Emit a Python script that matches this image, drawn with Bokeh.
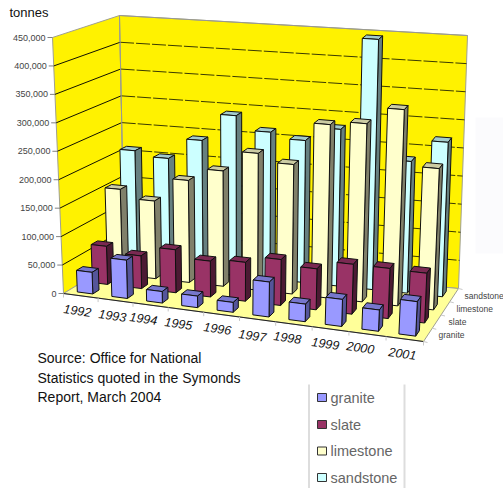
from bokeh.core.properties import value
from bokeh.embed import file_html
from bokeh.models import ColumnDataSource
from bokeh.plotting import figure
from bokeh.resources import INLINE

years = ["1992", "1993", "1994", "1995", "1996", "1997", "1998", "1999", "2000", "2001"]
rock_types = ["granite", "slate", "limestone", "sandstone"]
granite = [38000, 67000, 20000, 20000, 17000, 60000, 30000, 46000, 36000, 58000]
slate = [68000, 58000, 76000, 63000, 68000, 80000, 71000, 86000, 86000, 85000]
limestone = [155000, 140000, 183000, 206000, 243000, 229000, 305000, 312000, 342000, 245000]
sandstone = [211000, 202000, 240000, 290000, 265000, 255000, 280000, 445000, 233000, 272000]
series = [granite, slate, limestone, sandstone]
y_ticks = [0, 50000, 100000, 150000, 200000, 250000, 300000, 350000, 400000, 450000]
y_max = 450000

front_colors = ["#9999FF", "#993366", "#FFFFCC", "#CCFFFF"]
side_colors = ["#55559A", "#4C1A33", "#80806A", "#668080"]
top_colors = ["#7777CC", "#7A2952", "#CCCCA3", "#A3CCCC"]

# Corners of the 3-D plot box on the page: (depth, height) -> [left, right] as (x, y)
BOX = {
    (0, 0): [(63, 293), (423, 341)],
    (0, 1): [(52, 37), (437, 72)],
    (1, 0): [(124, 256), (458, 288)],
    (1, 1): [(119, 15), (467, 35)],
}
# The right of the box is nearer the viewer, so year spacing widens towards it
PERSPECTIVE = 1.045


def project(u, v, tonnes):
    """Map year position u, series position v and a tonnage to page pixels."""
    a, b, c = u / len(years), v / len(rock_types), tonnes / y_max
    a = a / (a + (1 - a) * PERSPECTIVE)
    out = []
    for k in (0, 1):
        near = [(1 - a) * BOX[(0, h)][0][k] + a * BOX[(0, h)][1][k] for h in (0, 1)]
        far = [(1 - a) * BOX[(1, h)][0][k] + a * BOX[(1, h)][1][k] for h in (0, 1)]
        low = (1 - b) * near[0] + b * far[0]
        high = (1 - b) * near[1] + b * far[1]
        out.append((1 - c) * low + c * high)
    return tuple(out)


def face(*corners):
    pts = [project(*c) for c in corners]
    return [q[0] for q in pts], [q[1] for q in pts]


p = figure(width=503, height=488, x_range=(0, 503), y_range=(488, 0),
           output_backend="svg", toolbar_location=None, min_border=0,
           x_axis_location=None, y_axis_location=None, outline_line_color=None,
           background_fill_color="white", border_fill_color="white")
p.grid.visible = False

NY, NS = len(years), len(rock_types)

# Pale panel at the right edge
p.quad(left=[475], right=[503], top=[117], bottom=[253], fill_color="#FBFBFD", line_color=None)

# Walls and floor
xs, ys = face((0, 0, 0), (0, 0, y_max), (0, NS, y_max), (0, NS, 0))
p.patch(xs, ys, fill_color="#FFF200", line_color="#A0A090", line_width=1)
xs, ys = face((0, NS, 0), (0, NS, y_max), (NY, NS, y_max), (NY, NS, 0))
p.patch(xs, ys, fill_color="#FFF200", line_color="#A0A090", line_width=1)
xs, ys = face((0, 0, 0), (NY, 0, 0), (NY, NS, 0), (0, NS, 0))
p.patch(xs, ys, fill_color="#FFFF99", line_color="#A0A090", line_width=1)

# Gridlines: solid on the side wall, broken on the back wall
for t in y_ticks[1:-1]:
    xs, ys = face((0, 0, t), (0, NS, t))
    p.line(xs, ys, line_color="#111100", line_width=1)
    xs, ys = face((0, NS, t), (NY, NS, t))
    p.line(xs, ys, line_color="#3A3A00", line_width=1, line_dash="14 2")
xs, ys = face((0, NS, 0), (0, NS, y_max), (NY, NS, y_max))
p.line(xs, ys, line_color="#9A9A90", line_width=1)

# Front edge of the floor, with tick marks
xs, ys = face((0, 0, 0), (NY, 0, 0))
p.line(xs, ys, line_color="#222222", line_width=1.2)
for i in range(NY + 1):
    x0, y0 = project(i, 0, 0)
    p.line([x0, x0], [y0, y0 + 4], line_color="#C8C8C8", line_width=1)
for j in range(NS + 1):
    x0, y0 = project(NY, j, 0)
    p.line([x0, x0 + 4], [y0, y0 + 1], line_color="#C8C8C8", line_width=1)
for t in y_ticks:
    x0, y0 = project(0, 0, t)
    p.line([x0 - 5, x0], [y0, y0], line_color="#808080", line_width=1)

# Bars, painted from the back row forward and from left to right
U0, U1, V0, V1 = 0.27, 0.72, 0.30, 0.72
bars = {"xs": [], "ys": [], "color": []}
for j in reversed(range(NS)):
    for i in range(NY):
        t = series[j][i]
        faces = [
            (((i + U0, j + V0, t), (i + U0, j + V1, t), (i + U1, j + V1, t), (i + U1, j + V0, t)), top_colors[j]),
            (((i + U1, j + V0, 0), (i + U1, j + V1, 0), (i + U1, j + V1, t), (i + U1, j + V0, t)), side_colors[j]),
            (((i + U0, j + V0, 0), (i + U1, j + V0, 0), (i + U1, j + V0, t), (i + U0, j + V0, t)), front_colors[j]),
        ]
        for corners, color in faces:
            fx, fy = face(*corners)
            bars["xs"].append(fx)
            bars["ys"].append(fy)
            bars["color"].append(color)
p.patches("xs", "ys", source=ColumnDataSource(bars), fill_color="color",
          line_color="#101010", line_width=1, line_join="round")

SANS = value("Liberation Sans")

# Tonnage labels along the front of the side wall
for t in y_ticks:
    x0, y0 = project(0, 0, t)
    p.text([x0 - 7], [y0], text=[f"{t:,}"], text_font=SANS, text_font_size="9px",
           text_color="#444444", text_align="right", text_baseline="middle")

p.text([9], [12], text=["tonnes"], text_font=SANS, text_font_size="13px",
       text_color="#111111", text_align="left", text_baseline="middle")

# Year labels, tilted to follow the floor edge
year_label_x = [77, 112, 143, 178, 217, 252, 287, 325, 360, 402]
year_label_y = [310, 315, 318, 323, 328, 335, 337, 343, 347, 353]
p.text(year_label_x, year_label_y, text=years, angle=-8, angle_units="deg",
       text_font=SANS, text_font_style="italic", text_font_size="12.5px", text_color="#111111",
       text_align="center", text_baseline="middle")

# Series labels along the right edge of the floor
depth_label_x = [438, 448, 456, 464]
depth_label_y = [334, 321, 308, 295]
p.text(depth_label_x, depth_label_y, text=rock_types, text_font=SANS, text_font_size="8.5px",
       text_color="#444444", text_align="left", text_baseline="middle")

# Source note
source_lines = ["Source: Office for National", "Statistics quoted in the Symonds", "Report, March 2004"]
p.text([37, 37, 37], [357, 377, 396], text=source_lines, text_font=SANS, text_font_size="14px",
       text_color="#111111", text_align="left", text_baseline="middle")

# Legend block
p.line([308.5, 308.5], [384, 488], line_color="#DDDDDD", line_width=2)
p.line([404, 404], [384, 488], line_color="#DDDDDD", line_width=2)
legend_y = [397, 424, 450.5, 477]
p.quad(left=[317] * 4, right=[326] * 4,
       top=[y - 4 for y in legend_y], bottom=[y + 4 for y in legend_y],
       fill_color=front_colors, line_color="#333333", line_width=1)
p.text([330] * 4, legend_y, text=rock_types, text_font=SANS, text_font_size="14.5px",
       text_color="#666666", text_align="left", text_baseline="middle")

open("out.html", "w").write(file_html(p, INLINE))
